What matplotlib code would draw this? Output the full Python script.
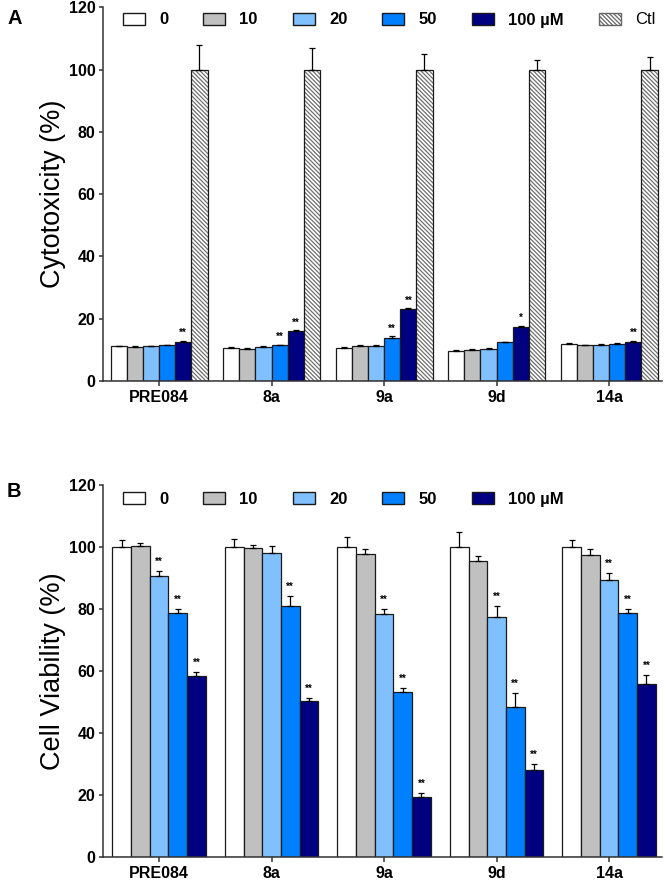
import matplotlib
matplotlib.use("Agg")
import matplotlib.pyplot as plt
import numpy as np
from matplotlib.patches import Patch

plt.rcParams['font.family'] = ['Liberation Sans', 'DejaVu Sans']
plt.rcParams['hatch.linewidth'] = 0.9

# ---------------- data ----------------
compounds = ["PRE084", "8a", "9a", "9d", "14a"]
conc_labels = ["0", "10", "20", "50", "100 \u00b5M"]
ctl_label = "Ctl"
colors = ["#ffffff", "#c0c0c0", "#80c0ff", "#0080ff", "#000080"]

# Panel A: cytotoxicity (%), rows = concentrations, cols = compounds
cyto_vals = [
    [11.1, 10.7, 10.7, 9.7, 11.8],   # 0
    [10.9, 10.4, 11.1, 9.9, 11.4],   # 10
    [11.1, 10.8, 11.1, 10.4, 11.7],  # 20
    [11.4, 11.4, 13.9, 12.4, 12.0],  # 50
    [12.5, 15.9, 23.0, 17.4, 12.5],  # 100
]
cyto_err = [
    [0.2, 0.3, 0.2, 0.3, 0.5],
    [0.3, 0.3, 0.3, 0.5, 0.3],
    [0.2, 0.3, 0.3, 0.3, 0.2],
    [0.3, 0.3, 0.4, 0.2, 0.3],
    [0.4, 0.4, 0.3, 0.3, 0.4],
]
ctl_vals = [100, 100, 100, 100, 100]
ctl_err = [8, 7, 5, 3, 4]
cyto_stars = [
    ["", "", "", "", ""],
    ["", "", "", "", ""],
    ["", "", "", "", ""],
    ["", "**", "**", "", ""],
    ["**", "**", "**", "*", "**"],
]

# Panel B: cell viability (%)
via_vals = [
    [100, 100, 100, 100, 100],
    [100.3, 99.6, 97.8, 95.6, 97.3],
    [90.8, 98.2, 78.3, 77.3, 89.2],
    [78.8, 81.0, 53.2, 48.3, 78.7],
    [58.3, 50.2, 19.2, 28.0, 55.8],
]
via_err = [
    [2.4, 2.6, 3.1, 5.0, 2.2],
    [1.1, 1.2, 1.6, 1.5, 1.9],
    [1.3, 2.1, 1.8, 3.6, 2.4],
    [1.2, 3.3, 1.2, 4.5, 1.2],
    [1.5, 1.2, 1.3, 2.1, 2.8],
]
via_stars = [
    ["", "", "", "", ""],
    ["", "", "", "", ""],
    ["**", "", "**", "**", "**"],
    ["**", "**", "**", "**", "**"],
    ["**", "**", "**", "**", "**"],
]

yticks = [0, 20, 40, 60, 80, 100, 120]

# ---------------- figure ----------------
W, H = 666, 882
fig = plt.figure(figsize=(W / 100, H / 100), dpi=100)

def fx(px):
    return px / W

def fy(py):
    return 1 - py / H

axA = fig.add_axes([fx(103), fy(381), fx(662) - fx(103), fy(7.3) - fy(381)])
axB = fig.add_axes([fx(103), fy(857), fx(662) - fx(103), fy(485) - fy(857)])

x = np.arange(len(compounds))
edge = "#1a1a1a"
lw_edge = 0.9
HATCH = '\\\\\\\\\\\\\\\\'


def style_axis(ax, ylabel):
    ax.set_xlim(-0.498, 4.47)
    ax.set_ylim(0, 120)
    ax.set_yticks(yticks)
    ax.set_xticks(x)
    ax.set_xticklabels(compounds, fontsize=11.5, fontweight='bold')
    for lab in ax.get_yticklabels():
        lab.set_fontweight('bold')
    ax.tick_params(axis='y', labelsize=11.5, length=3, width=1.1, pad=2.5, color="#333333")
    ax.tick_params(axis='x', length=3.8, width=1.1, pad=2.5, color="#333333")
    for s in ['top', 'right']:
        ax.spines[s].set_visible(False)
    for s in ['left', 'bottom']:
        ax.spines[s].set_linewidth(1.1)
        ax.spines[s].set_color("#333333")
    ax.set_ylabel(ylabel, fontsize=19.5)
    ax.yaxis.set_label_coords(-0.066, 0.5)


def add_stars(ax, xs, tops, stars, off):
    for xi, t, s in zip(xs, tops, stars):
        if s:
            ax.annotate(s, xy=(xi, t), xytext=(0, off), textcoords='offset points',
                        ha='center', va='bottom', fontsize=7, fontweight='bold')

# ---- Panel A ----
wA = 0.1437
nA = 6
for i in range(5):
    xs = x + (i - (nA - 1) / 2) * wA
    axA.bar(xs, cyto_vals[i], wA, color=colors[i], edgecolor=edge, linewidth=lw_edge, zorder=2)
    axA.errorbar(xs, cyto_vals[i], yerr=[np.zeros(5), cyto_err[i]], fmt='none',
                 ecolor='black', elinewidth=0.9, capsize=2.2, capthick=0.9, zorder=3)
    tops = np.array(cyto_vals[i]) + np.array(cyto_err[i])
    add_stars(axA, xs, tops, cyto_stars[i], 2.0)

xs_ctl = x + (5 - (nA - 1) / 2) * wA
axA.bar(xs_ctl, ctl_vals, wA, color='white', edgecolor="#707070", hatch=HATCH,
        linewidth=0, zorder=2)
axA.bar(xs_ctl, ctl_vals, wA, fill=False, edgecolor=edge, linewidth=lw_edge, zorder=2.5)
axA.errorbar(xs_ctl, ctl_vals, yerr=[np.zeros(5), ctl_err], fmt='none',
             ecolor='black', elinewidth=0.9, capsize=2.2, capthick=0.9, zorder=3)
style_axis(axA, "Cytotoxicity (%)")

# ---- Panel B ----
wB = 0.166
nB = 5
for i in range(5):
    xs = x + (i - (nB - 1) / 2) * wB
    axB.bar(xs, via_vals[i], wB, color=colors[i], edgecolor=edge, linewidth=lw_edge, zorder=2)
    axB.errorbar(xs, via_vals[i], yerr=[np.zeros(5), via_err[i]], fmt='none',
                 ecolor='black', elinewidth=0.9, capsize=2.5, capthick=0.9, zorder=3)
    tops = np.array(via_vals[i]) + np.array(via_err[i])
    add_stars(axB, xs, tops, via_stars[i], 3.0)
style_axis(axB, "Cell Viability (%)")

# ---- legends ----
def make_handles(include_ctl):
    hs = [Patch(facecolor=c, edgecolor=edge, linewidth=1.0) for c in colors]
    labels = list(conc_labels)
    if include_ctl:
        hs.append(Patch(facecolor='white', edgecolor="#666666", hatch=HATCH, linewidth=1.0))
        labels.append(ctl_label)
    return hs, labels

for ax, include_ctl, ly in [(axA, True, 20), (axB, False, 499)]:
    hs, labels = make_handles(include_ctl)
    leg = fig.legend(hs, labels, loc='center left', bbox_to_anchor=(fx(123), fy(ly)),
                     bbox_transform=fig.transFigure, ncol=len(hs), frameon=False,
                     prop={'size': 12, 'weight': 'bold'}, handlelength=1.32,
                     handleheight=0.72, handletextpad=0.85, columnspacing=2.1,
                     borderpad=0, borderaxespad=0)
    if include_ctl:
        leg.get_texts()[-1].set_fontweight('normal')

# panel letters
fig.text(fx(7), fy(18), "A", fontsize=14.5, fontweight='bold', va='center', ha='left')
fig.text(fx(7), fy(492), "B", fontsize=14.5, fontweight='bold', va='center', ha='left')

fig.savefig("out.png", dpi=100)
